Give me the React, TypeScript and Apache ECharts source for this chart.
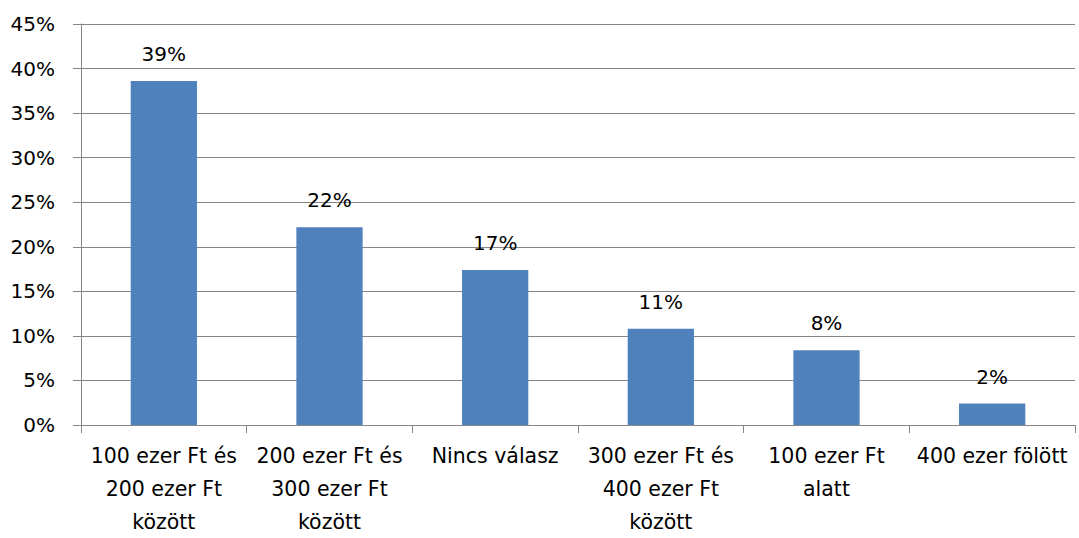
import React, { useEffect, useRef } from "react";
import * as echarts from "echarts";

const categories = [
  "100 ezer Ft és\n200 ezer Ft\nközött",
  "200 ezer Ft és\n300 ezer Ft\nközött",
  "Nincs válasz",
  "300 ezer Ft és\n400 ezer Ft\nközött",
  "100 ezer Ft\nalatt",
  "400 ezer fölött",
];
const values = [38.6, 22.2, 17.4, 10.8, 8.4, 2.4];
const yTicks = { min: 0, max: 45, interval: 5 };

const FONT = "'DejaVu Sans', sans-serif";
const GRAY = "#868686";

export default function App() {
  const ref = useRef<HTMLDivElement>(null);
  useEffect(() => {
    if (!ref.current) return;
    const chart = echarts.init(ref.current, undefined, { renderer: "svg" });
    chart.setOption({
      animation: false,
      backgroundColor: "#ffffff",
      textStyle: { fontFamily: FONT },
      grid: { left: 81, right: 4, top: 24, bottom: 111 },
      xAxis: {
        type: "category",
        data: categories,
        axisLine: { show: true, lineStyle: { color: GRAY, width: 1 } },
        axisTick: { show: true, length: 8, lineStyle: { color: GRAY } },
        axisLabel: {
          color: "#000",
          fontSize: 20.5,
          fontFamily: FONT,
          lineHeight: 33,
          margin: 14,
          interval: 0,
        },
      },
      yAxis: {
        type: "value",
        min: yTicks.min,
        max: yTicks.max,
        interval: yTicks.interval,
        axisLine: { show: true, lineStyle: { color: GRAY, width: 1 } },
        axisTick: { show: true, length: 8, lineStyle: { color: GRAY } },
        splitLine: { show: true, lineStyle: { color: GRAY, width: 1 } },
        axisLabel: {
          color: "#000",
          fontSize: 20,
          fontFamily: FONT,
          margin: 26,
          formatter: (v: number) => `${v}%`,
        },
      },
      series: [
        {
          type: "bar",
          data: values,
          barWidth: "40%",
          itemStyle: { color: "#4F81BD" },
          label: {
            show: true,
            position: "top",
            distance: 17,
            color: "#000",
            fontSize: 20,
            fontFamily: FONT,
            formatter: (p: any) => `${Math.round(p.value)}%`,
          },
        },
      ],
    });
    return () => chart.dispose();
  }, []);
  return (
    <div
      ref={ref}
      style={{ position: "fixed", left: 0, top: 0, width: 1079, height: 538 }}
    />
  );
}
